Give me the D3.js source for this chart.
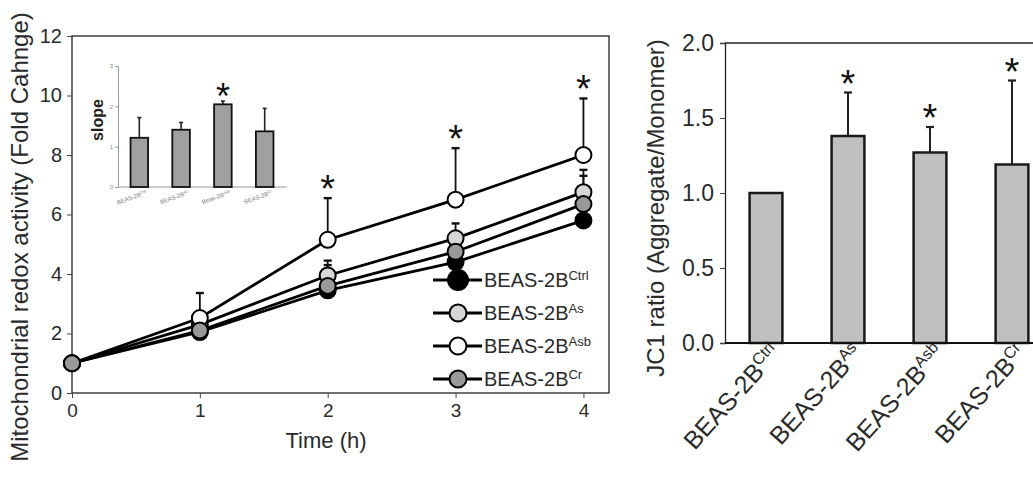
<!DOCTYPE html>
<html>
<head>
<meta charset="utf-8">
<script src="https://cdn.jsdelivr.net/npm/d3@7"></script>
<style>
  body { margin: 0; background: #fff; }
  svg { font-family: "Liberation Sans", Arial, sans-serif; }
</style>
</head>
<body>
<div id="chart-area"></div>
<script>
// Data: time course
const times = [0, 1, 2, 3, 4];
const seriesNames = ['Ctrl', 'As', 'Asb', 'Cr'];
const ctrlValues = [1, 2.05, 3.45, 4.4, 5.8];
const asValues = [1, 2.3, 3.95, 5.2, 6.75];
const asbValues = [1, 2.52, 5.15, 6.5, 8.0];
const crValues = [1, 2.1, 3.6, 4.75, 6.35];
const ctrlErrTop = [null, null, null, null, null];
const asErrTop = [null, null, 4.45, 5.7, 7.5];
const asbErrTop = [null, 3.36, 6.55, 8.23, 9.9];
const crErrTop = [null, null, 4.3, 5.3, 7.3];
const asbStars = [2, 3, 4];

// Data: inset slope
const slopeLabels = [['BEAS-2B', 'Ctrl'], ['BEAS-2B', 'As'], ['Beas-2B', 'Asb'], ['BEAS-2B', 'Cr']];
const slopeValues = [1.22, 1.42, 2.05, 1.38];
const slopeErrTop = [1.72, 1.6, 2.13, 1.95];

// Data: JC1 ratio
const jcLabels = ['Ctrl', 'As', 'Asb', 'Cr'];
const jcValues = [1.0, 1.38, 1.27, 1.19];
const jcErrTop = [null, 1.67, 1.44, 1.75];
const jcStars = [false, true, true, true];

const svg = d3.select('#chart-area')
    .append('svg')
    .attr('width', 1033)
    .attr('height', 481);

const textColor = '#2a2a2a';

// ---------- Left chart ----------
const x = d3.scaleLinear().domain([0, 4.2]).range([72, 609]);
const y = d3.scaleLinear().domain([0, 12]).range([393, 36]);

const series = [
    { name: 'Ctrl', values: ctrlValues, err: ctrlErrTop, fill: '#000' },
    { name: 'As', values: asValues, err: asErrTop, fill: '#d6d6d6' },
    { name: 'Asb', values: asbValues, err: asbErrTop, fill: '#fff' },
    { name: 'Cr', values: crValues, err: crErrTop, fill: '#999' }
];

// frame
svg.append('rect')
    .attr('x', x(0)).attr('y', y(12))
    .attr('width', x(4.2) - x(0)).attr('height', y(0) - y(12))
    .attr('fill', 'none').attr('stroke', '#222').attr('stroke-width', 1.3);

const yAxisL = svg.append('g')
    .attr('transform', 'translate(' + x(0) + ',0)')
    .call(d3.axisLeft(y).tickValues([0, 2, 4, 6, 8, 10, 12]).tickSize(5).tickPadding(5));
const xAxisL = svg.append('g')
    .attr('transform', 'translate(0,' + y(0) + ')')
    .call(d3.axisBottom(x).tickValues(times).tickFormat(d3.format('d')).tickSize(5).tickPadding(6));
[yAxisL, xAxisL].forEach(a => {
    a.select('.domain').remove();
    a.selectAll('line').attr('stroke', '#444');
    a.selectAll('text').attr('font-size', '19px').attr('fill', textColor);
});
yAxisL.selectAll('text').attr('font-size', '20px');

svg.append('text')
    .attr('x', 326).attr('y', 448)
    .attr('text-anchor', 'middle')
    .attr('font-size', '22px')
    .attr('fill', textColor)
    .text('Time (h)');

svg.append('text')
    .attr('transform', 'translate(28,237) rotate(-90)')
    .attr('text-anchor', 'middle')
    .attr('font-size', '24px')
    .attr('fill', textColor)
    .text('Mitochondrial redox activity (Fold Cahnge)');

const line = d3.line()
    .x((d, i) => x(times[i]))
    .y(d => y(d));

series.forEach(s => {
    svg.append('path')
        .datum(s.values)
        .attr('d', line)
        .attr('fill', 'none')
        .attr('stroke', '#000')
        .attr('stroke-width', 2.8);
});

// error bars
series.forEach(s => {
    s.err.forEach((e, i) => {
        if (e === null) return;
        svg.append('line')
            .attr('x1', x(times[i])).attr('x2', x(times[i]))
            .attr('y1', y(s.values[i])).attr('y2', y(e))
            .attr('stroke', '#111').attr('stroke-width', 1.8);
        svg.append('line')
            .attr('x1', x(times[i]) - 4).attr('x2', x(times[i]) + 4)
            .attr('y1', y(e)).attr('y2', y(e))
            .attr('stroke', '#111').attr('stroke-width', 2.4);
    });
});

// markers
series.forEach(s => {
    svg.selectAll(null)
        .data(s.values)
        .enter()
        .append('circle')
        .attr('cx', (d, i) => x(times[i]))
        .attr('cy', d => y(d))
        .attr('r', 8)
        .attr('fill', s.fill)
        .attr('stroke', '#000')
        .attr('stroke-width', 2);
});

// stars
asbStars.forEach(t => {
    svg.append('text')
        .attr('x', x(t)).attr('y', y(asbErrTop[t]) + 4)
        .attr('text-anchor', 'middle')
        .attr('font-size', '38px')
        .attr('fill', '#111')
        .text('*');
});

// legend
const legendY = [280, 313, 346, 379];
series.forEach((s, i) => {
    const g = svg.append('g').attr('transform', 'translate(0,' + legendY[i] + ')');
    g.append('line')
        .attr('x1', 433).attr('x2', 482)
        .attr('stroke', '#000').attr('stroke-width', 2.8);
    g.append('circle')
        .attr('cx', 458).attr('r', s.name === 'Ctrl' ? 10 : 8.5)
        .attr('fill', s.fill).attr('stroke', '#000').attr('stroke-width', 2);
    const t = g.append('text')
        .attr('x', 484).attr('y', 7)
        .attr('font-size', '20px')
        .attr('fill', textColor);
    t.append('tspan').text('BEAS-2B');
    t.append('tspan').attr('dy', -7).attr('font-size', '13px').text(s.name);
});

// ---------- Inset ----------
const ix = d3.scaleBand().domain(d3.range(slopeValues.length)).range([118, 286]).paddingInner(0.58).paddingOuter(0.3);
const iy = d3.scaleLinear().domain([0, 3]).range([187, 66]);

const iyAxis = svg.append('g')
    .attr('transform', 'translate(118,0)')
    .call(d3.axisLeft(iy).ticks(3).tickSize(3).tickPadding(2));
iyAxis.select('.domain').attr('stroke', '#999');
iyAxis.selectAll('line').attr('stroke', '#999');
iyAxis.selectAll('text').attr('font-size', '6px').attr('fill', '#888');

svg.append('line')
    .attr('x1', 118).attr('x2', 287)
    .attr('y1', iy(0)).attr('y2', iy(0))
    .attr('stroke', '#999').attr('stroke-width', 1.2);

slopeValues.forEach((v, i) => {
    const cx = ix(i) + ix.bandwidth() / 2;
    svg.append('line')
        .attr('x1', cx).attr('x2', cx)
        .attr('y1', iy(v)).attr('y2', iy(slopeErrTop[i]))
        .attr('stroke', '#222').attr('stroke-width', 1.6);
    svg.append('line')
        .attr('x1', cx - 2).attr('x2', cx + 2)
        .attr('y1', iy(slopeErrTop[i])).attr('y2', iy(slopeErrTop[i]))
        .attr('stroke', '#222').attr('stroke-width', 1.6);
    svg.append('rect')
        .attr('x', ix(i)).attr('y', iy(v))
        .attr('width', ix.bandwidth()).attr('height', iy(0) - iy(v))
        .attr('fill', '#a0a0a0').attr('stroke', '#111').attr('stroke-width', 1.8);
    const t = svg.append('text')
        .attr('transform', 'translate(' + (cx + 8) + ',194) rotate(-20)')
        .attr('text-anchor', 'end')
        .attr('font-size', '6px')
        .attr('fill', '#777');
    t.append('tspan').text(slopeLabels[i][0]);
    t.append('tspan').attr('dy', -2).attr('font-size', '4px').text(slopeLabels[i][1]);
});

svg.append('text')
    .attr('x', ix(2) + ix.bandwidth() / 2).attr('y', iy(slopeErrTop[2]) + 8)
    .attr('text-anchor', 'middle')
    .attr('font-size', '36px')
    .attr('fill', '#111')
    .text('*');

svg.append('text')
    .attr('transform', 'translate(103,120) rotate(-90)')
    .attr('text-anchor', 'middle')
    .attr('font-size', '16px')
    .attr('font-weight', 'bold')
    .attr('fill', '#222')
    .text('slope');

// ---------- Right chart ----------
const bx = d3.scaleBand().domain(jcLabels).range([725, 1053]).paddingInner(0.6).paddingOuter(0.3);
const by = d3.scaleLinear().domain([0, 2]).range([343, 43]);

svg.append('line')
    .attr('x1', 725).attr('x2', 1033)
    .attr('y1', by(2)).attr('y2', by(2))
    .attr('stroke', '#222').attr('stroke-width', 1.3);

const byAxis = svg.append('g')
    .attr('transform', 'translate(725,0)')
    .call(d3.axisLeft(by).tickValues([0, 0.5, 1, 1.5, 2]).tickFormat(d3.format('.1f')).tickSize(5).tickPadding(6));
byAxis.select('.domain').attr('stroke', '#222').attr('stroke-width', 1.3);
byAxis.selectAll('line').attr('stroke', '#444');
byAxis.selectAll('text').attr('font-size', '23px').attr('fill', textColor);

jcValues.forEach((v, i) => {
    const k = jcLabels[i];
    const cx = bx(k) + bx.bandwidth() / 2;
    if (jcErrTop[i] !== null) {
        svg.append('line')
            .attr('x1', cx).attr('x2', cx)
            .attr('y1', by(v)).attr('y2', by(jcErrTop[i]))
            .attr('stroke', '#222').attr('stroke-width', 2);
        svg.append('line')
            .attr('x1', cx - 4).attr('x2', cx + 4)
            .attr('y1', by(jcErrTop[i])).attr('y2', by(jcErrTop[i]))
            .attr('stroke', '#222').attr('stroke-width', 2.2);
    }
    svg.append('rect')
        .attr('x', bx(k)).attr('y', by(v))
        .attr('width', bx.bandwidth()).attr('height', by(0) - by(v))
        .attr('fill', '#c0c0c0').attr('stroke', '#1a1a1a').attr('stroke-width', 2.5);
    if (jcStars[i]) {
        svg.append('text')
            .attr('x', cx).attr('y', by(jcErrTop[i]) + 4)
            .attr('text-anchor', 'middle')
            .attr('font-size', '38px')
            .attr('fill', '#111')
            .text('*');
    }
    const t = svg.append('text')
        .attr('transform', 'translate(' + (cx + 16) + ',354) rotate(-48)')
        .attr('text-anchor', 'end')
        .attr('font-size', '25px')
        .attr('fill', textColor);
    t.append('tspan').text('BEAS-2B');
    t.append('tspan').attr('dy', -9).attr('font-size', '16px').text(k);
});

// bottom axis line
svg.append('line')
    .attr('x1', 725).attr('x2', 1033)
    .attr('y1', by(0)).attr('y2', by(0))
    .attr('stroke', '#111').attr('stroke-width', 2);

svg.append('text')
    .attr('transform', 'translate(664,208) rotate(-90)')
    .attr('text-anchor', 'middle')
    .attr('font-size', '24px')
    .attr('fill', textColor)
    .text('JC1 ratio (Aggregate/Monomer)');
</script>
</body>
</html>
